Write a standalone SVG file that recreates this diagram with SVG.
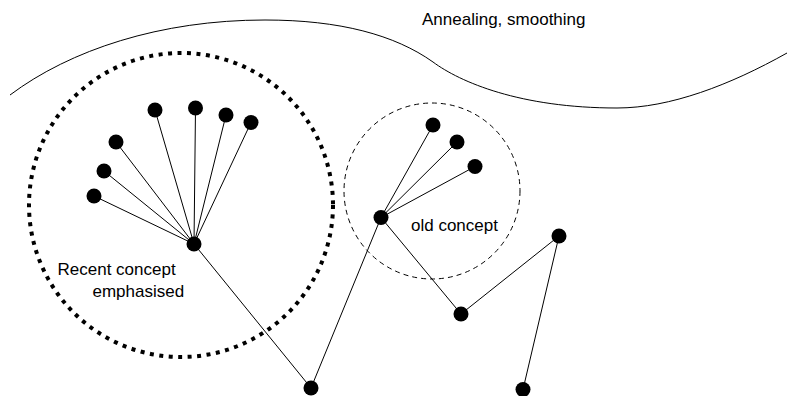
<svg xmlns="http://www.w3.org/2000/svg" width="787" height="396" viewBox="0 0 787 396">
<style>
.node{fill:#000}
.edge{stroke:#000;stroke-width:1;fill:none}
.lbl{font-family:"Liberation Sans",Arial,sans-serif;font-size:17px;fill:#000}
</style>
<rect width="787" height="396" fill="#fff"/>
<g id="regions">
<path id="annealing-curve" class="edge" d="M10,95 C70,50 160,20 265,20 C340,20 395,35 433,62 C460,82 520,108 617,108 C670,108 730,85 787,53"/>
<circle id="recent-circle" cx="181" cy="205" r="152" fill="none" stroke="#000" stroke-width="4" stroke-dasharray="4 5.5"/>
<circle id="old-circle" cx="432" cy="191" r="88" fill="none" stroke="#000" stroke-width="1" stroke-dasharray="5 4"/>
</g>
<g id="connectors" class="edge">
<line x1="194" y1="244" x2="155" y2="110"/>
<line x1="194" y1="244" x2="195.5" y2="108"/>
<line x1="194" y1="244" x2="226" y2="115"/>
<line x1="194" y1="244" x2="251" y2="122.5"/>
<line x1="194" y1="244" x2="116" y2="142"/>
<line x1="194" y1="244" x2="104" y2="171"/>
<line x1="194" y1="244" x2="94" y2="196"/>
<line x1="194" y1="244" x2="311" y2="388"/>
<line x1="311" y1="388" x2="381" y2="217.5"/>
<line x1="381" y1="217.5" x2="433" y2="125"/>
<line x1="381" y1="217.5" x2="457" y2="142"/>
<line x1="381" y1="217.5" x2="475" y2="166.5"/>
<line x1="381" y1="217.5" x2="461" y2="314"/>
<line x1="461" y1="314" x2="559" y2="236"/>
<line x1="559" y1="236" x2="523" y2="389.5"/>
</g>
<g id="n-hub"><circle class="node" cx="194" cy="244" r="7.5"/></g>
<g id="n-l1"><circle class="node" cx="155" cy="110" r="7.5"/></g>
<g id="n-l2"><circle class="node" cx="195.5" cy="108" r="7.5"/></g>
<g id="n-l3"><circle class="node" cx="226" cy="115" r="7.5"/></g>
<g id="n-l4"><circle class="node" cx="251" cy="122.5" r="7.5"/></g>
<g id="n-l5"><circle class="node" cx="116" cy="142" r="7.5"/></g>
<g id="n-l6"><circle class="node" cx="104" cy="171" r="7.5"/></g>
<g id="n-l7"><circle class="node" cx="94" cy="196" r="7.5"/></g>
<g id="n-bottom1"><circle class="node" cx="311" cy="388" r="7.5"/></g>
<g id="n-oldhub"><circle class="node" cx="381" cy="217.5" r="7.5"/></g>
<g id="n-o1"><circle class="node" cx="433" cy="125" r="7.5"/></g>
<g id="n-o2"><circle class="node" cx="457" cy="142" r="7.5"/></g>
<g id="n-o3"><circle class="node" cx="475" cy="166.5" r="7.5"/></g>
<g id="n-mid"><circle class="node" cx="461" cy="314" r="7.5"/></g>
<g id="n-right"><circle class="node" cx="559" cy="236" r="7.5"/></g>
<g id="n-bottom2"><circle class="node" cx="523" cy="389.5" r="7.5"/></g>
<g id="labels">
<text class="lbl" x="422" y="25">Annealing, smoothing</text>
<text class="lbl" x="411" y="231">old concept</text>
<text class="lbl" x="57.5" y="275">Recent concept</text>
<text class="lbl" x="92.5" y="297">emphasised</text>
</g>
</svg>
